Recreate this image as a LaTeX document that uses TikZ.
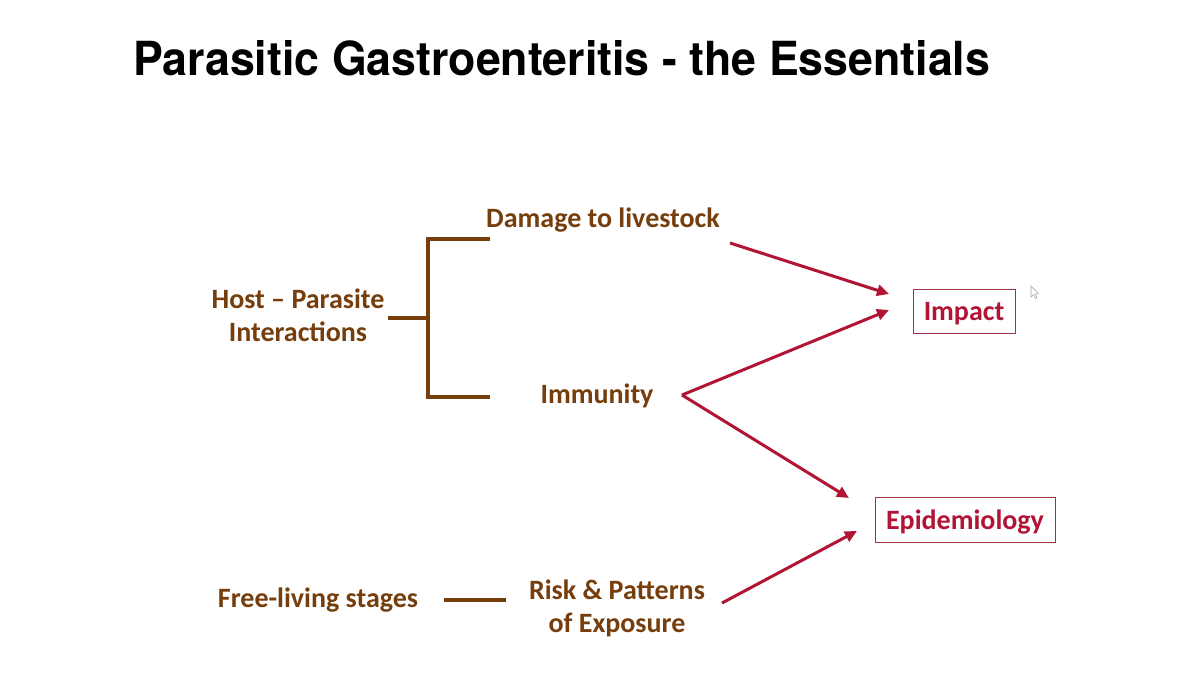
\documentclass[tikz,border=0pt]{standalone}
\usepackage{fontspec}
\setmainfont{Carlito}
\newfontfamily\titlefont{TeX Gyre Heros}
\usetikzlibrary{arrows.meta}
\definecolor{brn}{RGB}{118,62,12}
\definecolor{crim}{RGB}{178,20,54}
\definecolor{boxline}{RGB}{160,50,70}
\begin{document}
\begin{tikzpicture}[x=1pt,y=-1pt,
  lbl/.style={font=\fontsize{28}{33}\selectfont\bfseries, text=brn, align=center, inner sep=0pt},
  bx/.style={draw=boxline, line width=1pt, font=\fontsize{28}{33}\selectfont\bfseries, text=crim, inner sep=0pt, text height=22pt, text depth=3pt},
  brline/.style={draw=brn, line width=3.2pt},
  rarrow/.style={draw=crim, line width=3pt, -{Triangle[length=12pt,width=11pt]}}]
\useasboundingbox[fill=white] (0,0) rectangle (1192,678);
% title
\node[anchor=north west, inner sep=0pt] (title) at (133,40)
  {\resizebox{857pt}{35pt}{\titlefont\bfseries Parasitic Gastroenteritis - the Essentials}};
% labels
\node[lbl] (dmg) at (603,220) {Damage to livestock};
\node[lbl] (host) at (298,315) {Host -- Parasite\\Interactions};
\node[lbl] (imm) at (597,396) {Immunity};
\node[lbl] (free) at (318,600) {Free-living stages};
\node[lbl] (risk) at (617,608) {Risk \& Patterns\\of Exposure};
% boxes
\node[bx, minimum width=102pt, minimum height=44pt] (impact) at (964,311) {Impact};
\node[bx, minimum width=180pt, minimum height=45pt] (epi) at (965,520) {Epidemiology};
% bracket
\coordinate (stemL) at (388,318);
\coordinate (stemR) at (428,318);
\coordinate (brT) at (428,239);
\coordinate (brB) at (428,397);
\coordinate (brTe) at (490,239);
\coordinate (brBe) at (490,397);
\draw[brline] (stemL) -- (stemR);
\draw[brline] (brTe) -- (brT) -- (brB) -- (brBe);
\coordinate (flL) at (444,600);
\coordinate (flR) at (506,600);
\draw[brline] (flL) -- (flR);
% arrows
\coordinate (a1s) at (730,243);
\coordinate (a1e) at (889,294);
\coordinate (imv) at (682,395);
\coordinate (a2e) at (889,310);
\coordinate (a3e) at (849,498);
\coordinate (a4s) at (722,603);
\coordinate (a4e) at (857,531);
\draw[rarrow] (a1s) -- (a1e);
\draw[rarrow] (imv) -- (a2e);
\draw[rarrow] (imv) -- (a3e);
\draw[rarrow] (a4s) -- (a4e);
% cursor
\draw[gray!70, line width=0.6pt, fill=white, line join=round]
  (1031,286) -- (1031,297) -- (1033.5,294.5) -- (1035.5,298.5) -- (1037,297.8) -- (1035,293.8) -- (1038.5,293.8) -- cycle;
\end{tikzpicture}
\end{document}
